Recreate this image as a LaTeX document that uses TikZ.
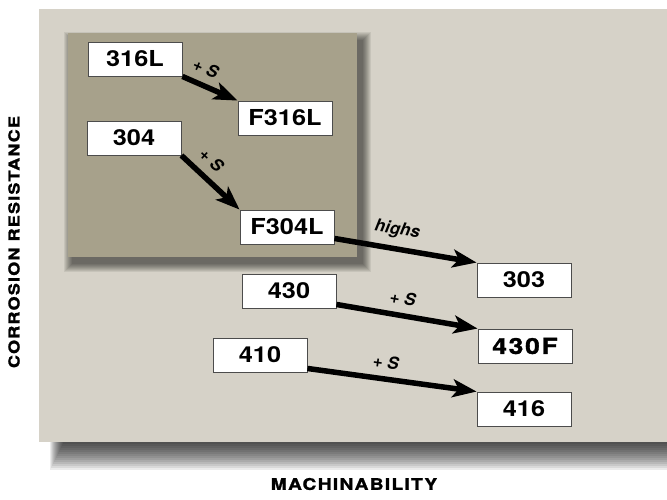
\documentclass[tikz,border=0pt]{standalone}
\usepackage{fontspec}
\setmainfont{TeX Gyre Heros}
\newfontfamily\widefont{TeX Gyre Heros}[FakeStretch=1.15]
\newfontfamily\axisfont{TeX Gyre Heros}[FakeStretch=1.2, LetterSpace=8, FakeBold=1.5]
\usetikzlibrary{arrows.meta,positioning}

\definecolor{panelgray}{HTML}{D6D2C8}
\definecolor{olivebox}{HTML}{A7A18B}

\begin{document}
\begin{tikzpicture}[x=1pt, y=-1pt, >={Stealth[length=24pt,width=18pt,inset=6pt]},
    grade/.style={draw=black!70, fill=white, line width=0.9pt, minimum width=94pt, minimum height=34pt, inner sep=0pt, font=\widefont\fontsize{22}{24}\selectfont\bfseries},
    flow/.style={->, line width=5.5pt},
    addlabel/.style={font=\fontsize{17}{19}\selectfont\bfseries\itshape, inner sep=1pt, above=7pt},
    axislabel/.style={font=\axisfont\fontsize{16}{18}\selectfont\bfseries}]

    \useasboundingbox (0,0) rectangle (667,499);

    % Panel shadow
    \foreach \k in {1,...,14}
      \fill[black, opacity=0.08] (64-\k, 30) rectangle (667, 442+2*\k);
    % Panel
    \fill[panelgray] (39,9) rectangle (667,442);

    % Box shadow
    \foreach \k in {0,...,8}
      \fill[black, opacity=0.07] (72-8+\k, 40-8+\k) rectangle (363+8-\k, 264+8-\k);
    % Box
    \fill[olivebox] (68,33) rectangle (357,257);

    % Grades
    \node[grade] (s316L) at (135,59) {316L};
    \node[grade] (f316L) at (285,118) {F316L};
    \node[grade] (s304) at (134,138) {304};
    \node[grade] (f304L) at (287,227) {F304L};
    \node[grade] (s303) at (524,280) {303};
    \node[grade] (s430) at (289,291) {430};
    \node[grade, font=\axisfont\fontsize{22}{24}\selectfont\bfseries] (s430F) at (525,346) {430F};
    \node[grade] (s410) at (260,355) {410};
    \node[grade] (s416) at (524,409) {416};

    % Additions
    \draw[flow] (s316L.south east) -- node[addlabel, sloped, pos=0.3] {+ S} (f316L.north west);
    \draw[flow] (s304.south east) -- node[addlabel, sloped, pos=0.32] {+ S} (f304L.north west);
    \draw[flow] ([yshift=6pt]f304L.south east) -- node[addlabel, sloped, pos=0.42] {highs} (s303.north west);
    \draw[flow] ([yshift=4pt]s430.south east) -- node[addlabel, sloped, pos=0.45] {+ S} (s430F.north west);
    \draw[flow] ([yshift=4pt]s410.south east) -- node[addlabel, sloped, pos=0.45] {+ S} (s416.north west);

    % Axes
    \node[axislabel] (machin) at (354,484) {MACHINABILITY};
    \node[axislabel, rotate=90, font=\axisfont\fontsize{15}{17}\selectfont\bfseries] (corros) at (14,242) {CORROSION RESISTANCE};
\end{tikzpicture}
\end{document}
